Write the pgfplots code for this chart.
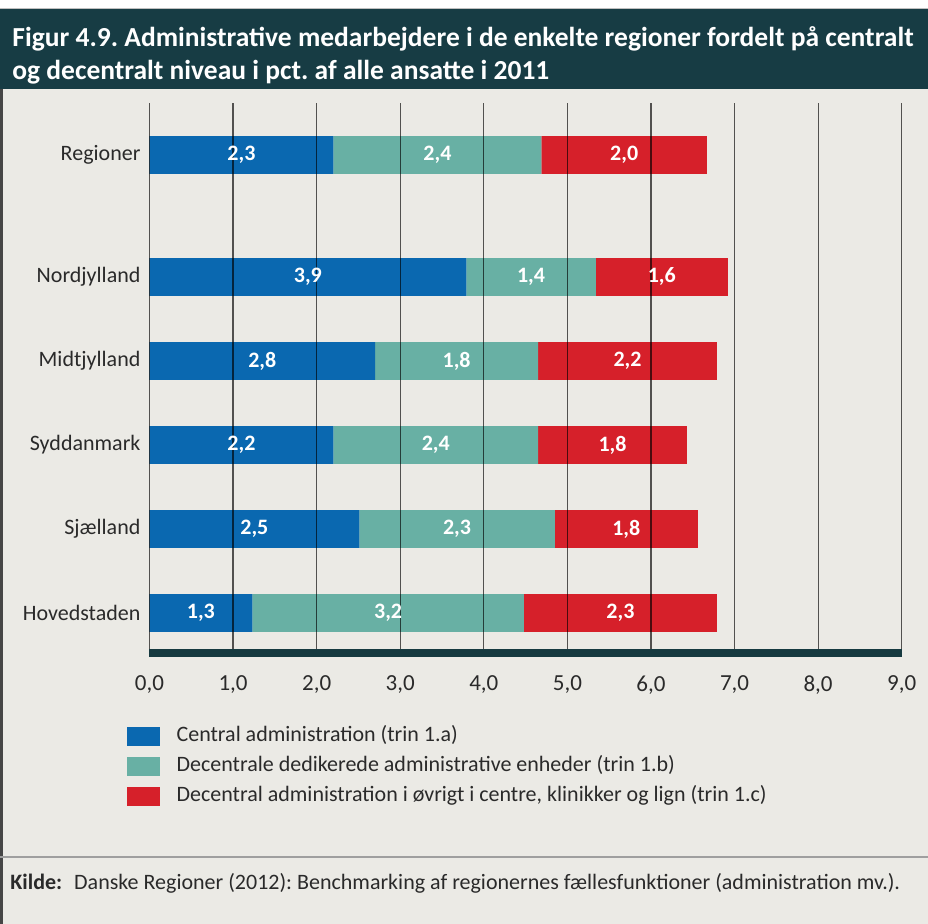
\documentclass[border=0pt]{standalone}
\usepackage{fontspec}
\setmainfont{Carlito}
\usepackage{pgfplots}
\usepackage{pgfplotstable}
\pgfplotsset{compat=1.18}
\frenchspacing

\definecolor{titlebg}{HTML}{173C44}
\definecolor{panelbg}{HTML}{EBEAE5}
\definecolor{cblue}{HTML}{0A68B0}
\definecolor{cteal}{HTML}{68B0A4}
\definecolor{cred}{HTML}{D6202A}
\definecolor{baseline}{HTML}{163A40}
\definecolor{txt}{HTML}{2A2A2A}

% y position, segment lengths, printed labels
\pgfplotstableread{
y    a    b    c    la  lb  lc
5.45 2.20 2.49 1.98 2,3 2,4 2,0
4    3.79 1.55 1.58 3,9 1,4 1,6
3    2.70 1.95 2.14 2,8 1,8 2,2
2    2.20 2.45 1.78 2,2 2,4 1,8
1    2.51 2.34 1.71 2,5 2,3 1,8
0    1.23 3.25 2.31 1,3 3,2 2,3
}\regdata

\begin{document}
\begin{tikzpicture}
\begin{scope}[x=0.5pt,y=-0.5pt]
  \useasboundingbox (0,0) rectangle (928,924);
  \fill[white] (0,0) rectangle (928,924);
  \fill[panelbg] (0,89) rectangle (928,924);
  \fill[titlebg] (0,9) rectangle (928,89);
  \draw[gray!50, line width=0.6pt] (0,8.5) -- (928,8.5);
  \fill[gray!55!black] (0,89) rectangle (2.5,924);
  \draw[gray!75, line width=1.1pt] (0,857) -- (928,857);
  \node[anchor=base west, inner sep=0, text=white,
        font=\fontsize{13.75}{16}\selectfont\bfseries] at (12,47)
    {Figur 4.9. Administrative medarbejdere i de enkelte regioner fordelt på centralt};
  \node[anchor=base west, inner sep=0, text=white,
        font=\fontsize{13.75}{16}\selectfont\bfseries] at (12,80)
    {og decentralt niveau i pct. af alle ansatte i 2011};
  \node[anchor=base west, inner sep=0, text=txt,
        font=\fontsize{11}{13}\selectfont] at (10,890)
    {\textbf{Kilde:}\hspace{6pt}Danske Regioner (2012): Benchmarking af regionernes fællesfunktioner (administration mv.).};
\end{scope}

\begin{axis}[
  at={(74.75pt,-326.5pt)}, anchor=south west,
  scale only axis, width=376.1pt, height=275pt,
  xbar stacked, bar width=0.45,
  xmin=0, xmax=9, ymin=-0.476, ymax=6.07,
  xtick={0,1,...,9},
  ytick={0,1,2,3,4,5.45},
  yticklabels={Hovedstaden, Sjælland, Syddanmark, Midtjylland, Nordjylland, Regioner},
  /pgf/number format/assume math mode=true,
  xticklabel style={font=\fontsize{11.5}{13}\selectfont, text=txt, yshift=-8pt,
    /pgf/number format/.cd, fixed, fixed zerofill, precision=1, use comma},
  yticklabel style={font=\fontsize{11}{13}\selectfont, text=txt, xshift=-1pt},
  major tick length=0pt,
  axis x line*=bottom, axis y line*=left,
  x axis line style={draw=baseline, line width=4pt, -},
  y axis line style={draw=none},
  xmajorgrids, grid style={black, opacity=0.65, line width=0.6pt},
  axis on top,
  point meta=explicit symbolic,
  nodes near coords,
  every node near coord/.append style={anchor=center, text=white,
    font=\fontsize{11}{12}\selectfont\bfseries},
  legend image code/.code={\fill[#1] (0pt,-4.75pt) rectangle (16.5pt,4.75pt);},
  legend cell align=left,
  legend style={at={(-0.031,-0.133)}, anchor=north west, draw=none, fill=none,
    inner sep=0pt, row sep=5.5pt, font=\fontsize{11}{13}\selectfont, text=txt,
    nodes={inner sep=0pt, text height=7pt, text depth=2pt},
    /tikz/every odd column/.append style={column sep=8.5pt}},
]
\addplot[fill=cblue, draw=none] table[x=a, y=y, meta=la] {\regdata};
\addlegendentry{Central administration (trin 1.a)}
\addplot[fill=cteal, draw=none] table[x=b, y=y, meta=lb] {\regdata};
\addlegendentry{Decentrale dedikerede administrative enheder (trin 1.b)}
\addplot[fill=cred, draw=none] table[x=c, y=y, meta=lc] {\regdata};
\addlegendentry{Decentral administration i øvrigt i centre, klinikker og lign (trin 1.c)}
\end{axis}
\end{tikzpicture}
\end{document}
